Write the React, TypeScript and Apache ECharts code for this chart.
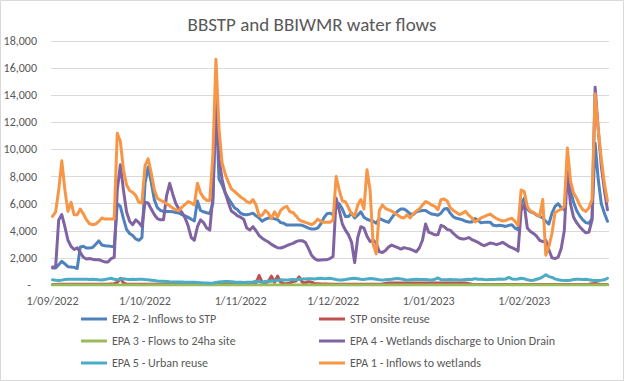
import React, { useEffect, useRef } from "react";
import * as echarts from "echarts";

const TITLE = "BBSTP and BBIWMR water flows";
const START_YEAR = 2022;
const START_MONTH = 8; // September (0-based)
const DAY_COUNT = 181; // 1 Sep 2022 .. 28 Feb 2023

const Y_MIN = 0;
const Y_MAX = 18000;
const Y_STEP = 2000;

const SERIES_NAMES = [
  "EPA 2 - Inflows to STP",
  "STP onsite reuse",
  "EPA 3 - Flows to 24ha site",
  "EPA 4 - Wetlands discharge to Union Drain",
  "EPA 5 - Urban reuse",
  "EPA 1 - Inflows to wetlands",
];
const COLORS = ["#4F81BD", "#C0504D", "#9BBB59", "#8064A2", "#4BACC6", "#F79646"];

const epa2Inflows = [
  1250, 1250, 1500, 1750, 1550, 1350, 1330, 1300, 1220, 2800,
  2850, 2730, 2730, 2760, 3000, 3250, 2950, 2900, 2880, 2850,
  2800, 6000, 5800, 4900, 4100, 3800, 3650, 3400, 3300, 3500,
  7500, 8700, 7600, 6300, 5700, 5500, 5430, 5430, 5430, 5400,
  5350, 5300, 5200, 5100, 4990, 4850, 4720, 6200, 5500, 5400,
  5330, 5280, 6000, 13500, 7800, 7400, 6800, 6400, 6050, 5700,
  5550, 5300, 5200, 5180, 5230, 5300, 5100, 4950, 4700, 4850,
  4940, 4940, 4880, 4820, 4600, 4550, 4420, 4420, 4420, 4420,
  4420, 4400, 4300, 4200, 4130, 4130, 4200, 4500, 4950, 5250,
  5300, 5200, 5800, 6000, 5600, 5060, 5060, 5300, 4950, 5150,
  5400, 5000, 4850, 4760, 4700, 4560, 4900, 4800, 4700, 4620,
  4950, 5250, 5450, 5600, 5600, 5450, 5250, 5200, 5400, 5450,
  5500, 5500, 5350, 5230, 5200, 5150, 5300, 5600, 5650, 5300,
  5030, 4920, 4870, 4800, 4700, 4650, 4640, 4900, 4750, 4600,
  4620, 4620, 4620, 4400, 4370, 4400, 4370, 4320, 4400, 4450,
  4200, 4080, 6000, 6400, 5600, 5400, 5330, 5150, 5060, 4950,
  4700, 4500, 5300, 5800, 6000, 5700, 5550, 8200, 7000, 6100,
  5500, 5100, 4800, 4600, 4550, 4900, 10460, 7800, 6000, 5300,
  4700,
];

const stpOnsiteReuse = [
  30, 40, 50, 50, 50, 60, 60, 60, 60, 60,
  60, 50, 50, 50, 50, 50, 60, 60, 60, 80,
  100, 200, 500, 150, 60, 50, 50, 50, 60, 60,
  60, 60, 60, 60, 60, 60, 60, 60, 60, 60,
  60, 60, 60, 60, 60, 60, 60, 60, 60, 60,
  60, 60, 60, 60, 60, 60, 60, 60, 60, 60,
  60, 60, 60, 70, 80, 100, 150, 700, 200, 150,
  250, 650, 200, 650, 200, 120, 100, 150, 250, 300,
  600, 200, 150, 250, 200, 120, 100, 80, 80, 70,
  60, 60, 60, 60, 60, 60, 60, 60, 60, 60,
  60, 60, 60, 60, 60, 60, 60, 80, 120, 150,
  150, 150, 150, 150, 150, 150, 150, 150, 150, 150,
  150, 150, 150, 150, 150, 150, 150, 150, 150, 150,
  150, 150, 150, 150, 150, 100, 50, 30, 30, 30,
  30, 30, 30, 30, 30, 30, 30, 30, 30, 30,
  30, 30, 30, 30, 30, 30, 30, 30, 30, 30,
  30, 30, 30, 30, 30, 30, 30, 30, 30, 30,
  30, 30, 30, 30, 50, 100, 120, 80, 30, 30,
  30,
];

const epa3Flows24ha = [
  0, 0, 0, 0, 0, 0, 0, 0, 0, 0,
  0, 0, 0, 0, 0, 0, 0, 0, 0, 0,
  0, 0, 0, 0, 0, 0, 0, 0, 0, 0,
  0, 0, 0, 0, 0, 0, 0, 0, 0, 0,
  0, 0, 0, 0, 0, 0, 0, 0, 0, 0,
  0, 0, 0, 0, 0, 0, 0, 0, 0, 0,
  0, 0, 0, 0, 0, 0, 0, 0, 0, 0,
  0, 0, 0, 0, 0, 0, 0, 0, 0, 0,
  0, 0, 0, 0, 0, 0, 0, 0, 0, 0,
  0, 0, 0, 0, 0, 0, 0, 0, 0, 0,
  0, 0, 0, 0, 0, 0, 0, 0, 0, 0,
  0, 0, 0, 0, 0, 0, 0, 0, 0, 0,
  0, 0, 0, 0, 0, 0, 0, 0, 0, 0,
  0, 0, 0, 0, 0, 0, 0, 0, 0, 0,
  0, 0, 0, 0, 0, 0, 0, 0, 0, 0,
  0, 0, 0, 0, 0, 0, 0, 0, 0, 0,
  0, 0, 0, 0, 0, 0, 0, 0, 0, 0,
  0, 0, 0, 0, 0, 0, 0, 0, 0, 0,
  0,
];

const epa4WetlandsDischarge = [
  1330, 1330, 4800, 5200, 4300, 3300, 2850, 2620, 2750, 2400,
  2050, 1920, 1950, 1900, 1870, 1870, 1780, 1700, 1700, 1950,
  2040, 7000, 8870, 7000, 5400, 4700, 4450, 4800, 4600, 4300,
  6100, 6050, 5600, 5200, 4900, 4810, 4810, 6600, 7500, 6700,
  6000, 5600, 5350, 4950, 4350, 3500, 3300, 4300, 4800, 4600,
  4200, 4050, 6500, 13800, 9300, 7800, 6800, 6100, 5450, 5300,
  5100, 5000, 4850, 4200, 4060, 4300, 4000, 3650, 3450, 3300,
  3170, 3000, 2870, 2750, 2730, 2800, 2900, 3000, 3070, 3200,
  3270, 3270, 3150, 2700, 2200, 1950, 1830, 1850, 1870, 1870,
  1950, 2100, 6400, 5500, 4500, 4050, 3700, 3150, 1650, 3500,
  4300, 4200, 3600, 3200, 3300, 3100, 2450, 2400, 2550, 2800,
  2950, 2850, 2750, 2650, 2760, 2700, 2650, 2560, 2450, 2750,
  3300, 4500, 3900, 3800, 3700, 3700, 4400, 4300, 4100, 4050,
  3800, 3600, 3450, 3400, 3420, 3500, 3350, 3250, 3150, 3000,
  2900, 3000, 3100, 3050, 2980, 3050, 3150, 3000, 2850, 2750,
  2650, 2500, 5500, 5950, 4200, 3950, 3800, 3600, 3300, 3200,
  3300, 2600, 2000, 1950, 2050, 2700, 4000, 8370, 6000, 5000,
  4600, 4300, 4050, 3850, 3900, 4800, 14590, 11500, 8800, 7000,
  5550,
];

const epa5UrbanReuse = [
  380, 350, 330, 360, 400, 420, 430, 420, 420, 430,
  420, 420, 410, 420, 410, 380, 370, 400, 450, 500,
  420, 380, 420, 460, 430, 410, 420, 400, 420, 430,
  400, 380, 350, 330, 300, 280, 280, 260, 240, 230,
  220, 230, 220, 210, 200, 210, 200, 190, 170, 150,
  140, 130, 140, 180, 220, 240, 250, 250, 240, 220,
  210, 200, 190, 200, 210, 230, 280, 250, 200, 260,
  300, 280, 320, 350, 380, 370, 360, 380, 400, 380,
  420, 440, 450, 460, 470, 450, 480, 500, 470, 480,
  500, 450, 400, 360, 370, 400, 440, 480, 500, 460,
  420, 400, 450, 480, 460, 420, 380, 360, 380, 400,
  420, 460, 480, 450, 400, 360, 380, 400, 420, 400,
  410, 400, 380, 370, 420, 520, 400, 380, 390, 410,
  390, 380, 370, 380, 400, 420, 410, 470, 430, 420,
  400, 390, 400, 410, 420, 440, 420, 450, 560, 450,
  420, 440, 500, 460, 380, 340, 350, 420, 480, 600,
  760, 620, 560, 450, 380, 350, 340, 340, 350, 400,
  420, 430, 400, 420, 380, 350, 340, 340, 350, 380,
  500,
];

const epa1InflowsWetlands = [
  5060, 5400, 7000, 9160, 7020, 5430, 6110, 5180, 5180, 5600,
  5250, 4810, 4520, 4450, 4500, 4690, 4940, 4860, 4860, 4860,
  4860, 11200, 10590, 8500, 7390, 6970, 6830, 6600, 6100, 6050,
  8800, 9300, 8300, 7050, 6400, 6250, 6150, 6000, 5850, 5670,
  5550, 5500, 5750, 5950, 6150, 6050, 5900, 7500, 6800, 6450,
  6240, 6240, 9500, 16650, 11500, 9000, 8200, 7600, 7100, 6900,
  6700, 6500, 6350, 6150, 6050, 6300, 5900, 5100, 5150, 5500,
  5300, 4900, 5400, 5000, 5500, 5700, 5800, 5400, 5350, 5100,
  4800, 4700, 4620, 4550, 4450, 4600, 4860, 4700, 4620, 4620,
  4620, 4800, 8000, 7000, 6200, 6150, 5700, 5250, 5080, 5900,
  6300, 5600, 8500, 7000, 3000, 2300, 5500, 5900, 5650, 5550,
  5450, 5300, 5150, 5000, 4940, 5180, 4950, 5250, 5450, 5600,
  5900, 6150, 6050, 5900, 5800, 5550, 6300, 6350, 6200, 5700,
  5500, 5350, 5200, 5300, 5430, 5150, 4950, 4650, 4800, 4950,
  5050, 5150, 5230, 5050, 4900, 4800, 4720, 4760, 4860, 4920,
  4700, 4400, 7000, 6900, 5800, 5450, 5350, 5200, 5060, 6300,
  2200, 2850, 3800, 5350, 5480, 5600, 5800, 10100, 7700, 6800,
  6400, 5900, 5550, 5430, 5700, 6300, 14100, 11500, 9300, 7500,
  6200,
];

const SERIES_DATA = [
  epa2Inflows,
  stpOnsiteReuse,
  epa3Flows24ha,
  epa4WetlandsDischarge,
  epa5UrbanReuse,
  epa1InflowsWetlands,
];

const FONT = 'Carlito, Calibri, "Liberation Sans Narrow", "Liberation Sans", sans-serif';
const TEXT_COLOR = "#595959";
const GRID_COLOR = "#D9D9D9";

function buildDates(): string[] {
  const out: string[] = [];
  for (let i = 0; i < DAY_COUNT; i++) {
    const d = new Date(Date.UTC(START_YEAR, START_MONTH, 1 + i));
    const y = d.getUTCFullYear();
    const m = String(d.getUTCMonth() + 1).padStart(2, "0");
    const day = String(d.getUTCDate()).padStart(2, "0");
    out.push(`${y}-${m}-${day}`);
  }
  return out;
}

export default function App() {
  const ref = useRef<HTMLDivElement>(null);

  useEffect(() => {
    if (!ref.current) return;
    const chart = echarts.init(ref.current, undefined, { renderer: "svg" });
    const dates = buildDates();

    const legendCommon = {
      orient: "vertical" as const,
      top: 308,
      itemGap: 10,
      itemWidth: 26,
      itemHeight: 3,
      icon: "rect",
      textStyle: { color: TEXT_COLOR, fontSize: 12, fontFamily: FONT },
    };

    chart.setOption({
      animation: false,
      backgroundColor: "#FFFFFF",
      title: {
        text: TITLE,
        left: "center",
        top: 10,
        textStyle: { color: TEXT_COLOR, fontSize: 19, fontWeight: "normal", fontFamily: FONT },
      },
      legend: [
        { ...legendCommon, left: 76, data: [SERIES_NAMES[0], SERIES_NAMES[2], SERIES_NAMES[4]] },
        { ...legendCommon, left: 314, data: [SERIES_NAMES[1], SERIES_NAMES[3], SERIES_NAMES[5]] },
      ],
      grid: { left: 51, right: 15, top: 41, bottom: 96, containLabel: false },
      xAxis: {
        type: "category",
        data: dates,
        boundaryGap: true,
        axisLine: { lineStyle: { color: GRID_COLOR } },
        axisTick: { show: false },
        splitLine: { show: false },
        axisLabel: {
          interval: (_i: number, v: string) => v.endsWith("-01"),
          formatter: (v: string) => {
            const [y, m, d] = v.split("-");
            return `${Number(d)}/${m}/${y}`;
          },
          margin: 10,
          color: TEXT_COLOR,
          fontSize: 12,
          fontFamily: FONT,
        },
      },
      yAxis: {
        type: "value",
        min: Y_MIN,
        max: Y_MAX,
        interval: Y_STEP,
        axisLine: { show: false },
        axisTick: { show: false },
        splitLine: { lineStyle: { color: GRID_COLOR } },
        axisLabel: {
          margin: 14,
          color: TEXT_COLOR,
          fontSize: 12,
          fontFamily: FONT,
          formatter: (v: number) => (v === 0 ? "{z|-}" : v.toLocaleString("en-US")),
          rich: {
            z: { padding: [0, 6, 0, 0], color: TEXT_COLOR, fontSize: 12, fontFamily: FONT },
          },
        },
      },
      graphic: [
        {
          type: "rect",
          shape: { x: 0.5, y: 0.5, width: 623, height: 380 },
          style: { fill: "none", stroke: GRID_COLOR, lineWidth: 1 },
          silent: true,
          z: 100,
        },
      ],
      series: SERIES_NAMES.map((name, i) => ({
        name,
        type: "line",
        data: SERIES_DATA[i],
        symbol: "none",
        color: COLORS[i],
        lineStyle: { color: COLORS[i], width: 3, cap: "round", join: "round" },
        z: 2 + i,
      })),
    });

    return () => chart.dispose();
  }, []);

  return (
    <div
      ref={ref}
      style={{ position: "absolute", left: 0, top: 0, width: 624, height: 381, background: "#fff" }}
    />
  );
}
